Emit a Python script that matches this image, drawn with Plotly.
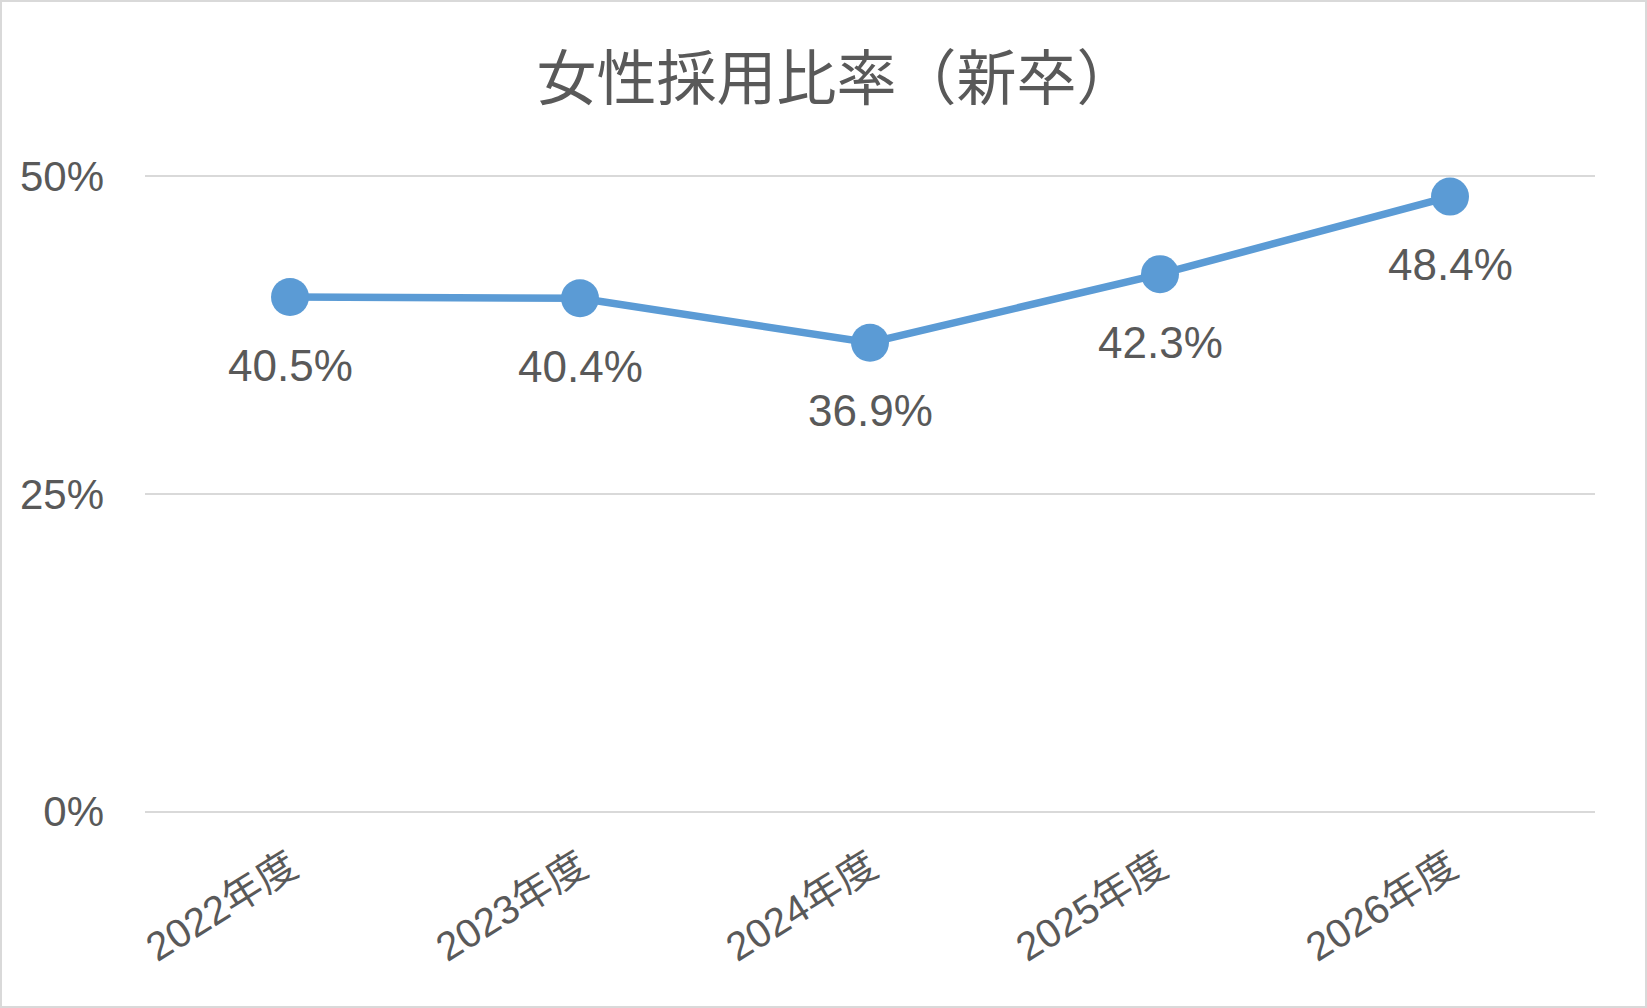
import plotly.graph_objects as go

# data
years = ["2022年度", "2023年度", "2024年度", "2025年度", "2026年度"]
ratio = [0.405, 0.404, 0.369, 0.423, 0.484]
y_ticks = [0, 0.25, 0.5]
y_tick_text = ["0%", "25%", "50%"]

W, H = 1647, 1008
ml, mr, mt, mb = 145, 52, 175, 195
grey_text = "#595959"
tick_font = "Liberation Sans Narrow, Liberation Sans, Arial, Noto Sans CJK JP"

fig = go.Figure()
fig.add_trace(go.Scatter(
    x=years, y=ratio, mode="lines+markers",
    line=dict(color="#5b9bd5", width=7.5),
    marker=dict(color="#5b9bd5", size=38),
    hoverinfo="skip", showlegend=False,
))

# value labels under each point
for x, v in zip(years, ratio):
    fig.add_annotation(
        x=x, y=v, text=f"{v * 100:.1f}%", showarrow=False,
        yshift=-68, xanchor="center", yanchor="middle",
        font=dict(family="Liberation Sans, Arial", size=44, color=grey_text),
    )

# light border round the whole picture
pw, ph = W - ml - mr, H - mt - mb
fig.add_shape(
    type="rect", xref="paper", yref="paper",
    x0=-(ml - 1) / pw, x1=1 + (mr - 1) / pw,
    y0=-(mb - 1) / ph, y1=1 + (mt - 1) / ph,
    line=dict(color="#d9d9d9", width=2),
)

fig.update_layout(
    width=W, height=H,
    margin=dict(l=ml, r=mr, t=mt, b=mb),
    paper_bgcolor="white", plot_bgcolor="white",
    title=dict(
        text="女性採用比率（新卒）", x=0.5 + 13 / W, xref="container", xanchor="center",
        y=1 - 79 / H, yanchor="middle",
        font=dict(family="Noto Sans CJK JP", size=60, color=grey_text),
    ),
    xaxis=dict(
        range=[-0.5, 4.5],
        showgrid=False, showline=False, ticks="",
        tickangle=-32, ticklabelstandoff=22,
        tickfont=dict(family=tick_font, size=40, color=grey_text),
    ),
    yaxis=dict(
        range=[-0.001, 0.501], tickvals=y_ticks, ticktext=y_tick_text,
        showgrid=True, gridcolor="#d9d9d9", gridwidth=2,
        zeroline=False, showline=False, ticks="",
        ticklabelstandoff=40,
        tickfont=dict(family=tick_font, size=42, color=grey_text),
    ),
)

fig.write_html("out.html", config={"displayModeBar": False},
               post_script="document.body.style.margin = '0';")
